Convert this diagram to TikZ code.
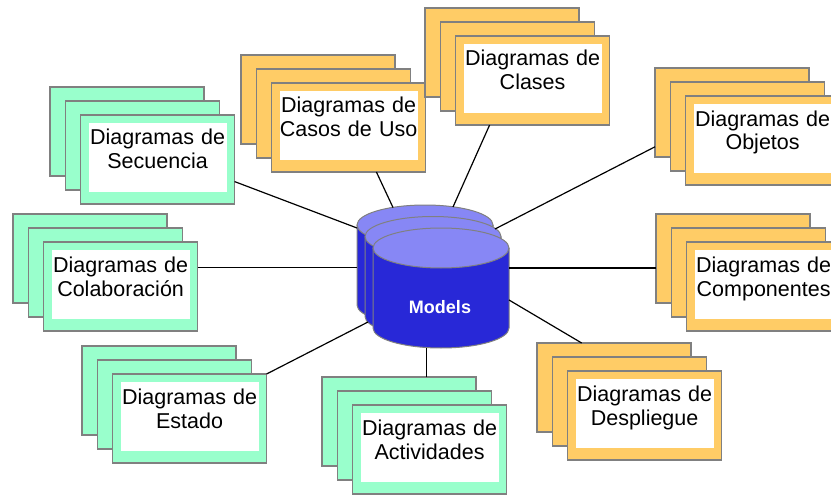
\documentclass[tikz,border=0pt]{standalone}
\usepackage{fontspec}
\setsansfont{Liberation Sans}
\usepackage{tikz}
\usetikzlibrary{positioning}
\definecolor{cardgreen}{RGB}{153,255,204}
\definecolor{cardorange}{RGB}{255,204,102}
\definecolor{cardline}{RGB}{128,128,128}
\definecolor{dbblue}{RGB}{40,40,215}
\definecolor{dbtop}{RGB}{135,135,245}

\begin{document}
\begin{tikzpicture}[x=1pt,y=-1pt,node distance=0pt,outer sep=0pt,inner sep=0pt]
      \tikzset{card/.style={shape=rectangle,draw=cardline,line width=1.4pt,fill=#1,minimum width=154pt,minimum height=89pt}}
      \tikzset{cardfront/.style={card=#1,path picture={\fill[white] ([shift={(8pt,-8pt)}]path picture bounding box.north west) rectangle ([shift={(-8pt,12pt)}]path picture bounding box.south east);},
          text width=138pt,align=center,font=\sffamily\fontsize{21.5pt}{24pt}\selectfont,text height=16pt,text depth=45pt}}
      \tikzset{behind/.style={on grid,below right=14pt and 15.3pt of #1}}
      \tikzset{drum/.pic={
          \fill [dbblue] (-68,-40) -- (-68,40) arc (180:0:68 and 20) -- (68,-40) -- cycle;
          \fill [dbtop] (0,-40) ellipse (68 and 20);
          \draw [cardline,line width=1pt] (-68,-40) -- (-68,40) arc (180:0:68 and 20) -- (68,-40);
          \draw [cardline,line width=1pt] (0,-40) ellipse (68 and 20);}}
      \tikzset{dblabel/.style={text=white,font=\sffamily\bfseries\fontsize{18pt}{20pt}\selectfont}}
      \tikzset{link/.style={draw=black,line width=1.2pt}}

      \fill[white] (0,0) rectangle (831,495);
      \clip (0,0) rectangle (831,495);

      % green stacks
      \node [card=cardgreen] (secB) at (127,131.5) {};
      \node [card=cardgreen,behind=secB] (secM) {};
      \node [cardfront=cardgreen,behind=secM] (secF) {Diagramas de\\Secuencia};

      \node [card=cardgreen] (colB) at (90,258.5) {};
      \node [card=cardgreen,behind=colB] (colM) {};
      \node [cardfront=cardgreen,behind=colM] (colF) {Diagramas de\\Colaboración};

      \node [card=cardgreen] (estB) at (159,390.5) {};
      \node [card=cardgreen,behind=estB] (estM) {};
      \node [cardfront=cardgreen,behind=estM] (estF) {Diagramas de\\Estado};

      \node [card=cardgreen] (actB) at (399,421.5) {};
      \node [card=cardgreen,behind=actB] (actM) {};
      \node [cardfront=cardgreen,behind=actM] (actF) {Diagramas de\\Actividades};

      % orange stacks
      \node [card=cardorange] (casB) at (318,99.5) {};
      \node [card=cardorange,behind=casB] (casM) {};
      \node [cardfront=cardorange,behind=casM] (casF) {Diagramas de\\Casos de Uso};

      \node [card=cardorange] (claB) at (502,52.5) {};
      \node [card=cardorange,behind=claB] (claM) {};
      \node [cardfront=cardorange,behind=claM] (claF) {Diagramas de\\Clases};

      \node [card=cardorange] (objB) at (732,112.5) {};
      \node [card=cardorange,behind=objB] (objM) {};
      \node [cardfront=cardorange,behind=objM] (objF) {Diagramas de\\Objetos};

      \node [card=cardorange] (comB) at (733,258.5) {};
      \node [card=cardorange,behind=comB] (comM) {};
      \node [cardfront=cardorange,behind=comM] (comF) {Diagramas de\\Componentes};

      \node [card=cardorange] (desB) at (614,387.5) {};
      \node [card=cardorange,behind=desB] (desM) {};
      \node [cardfront=cardorange,behind=desM] (desF) {Diagramas de\\Despliegue};

      % the model store
      \pic at (425,265) {drum};
      \pic at (433,276.5) {drum};
      \pic at (441,288) {drum};
      \node [dblabel] (models) at (440,307) {Models};

      % where the links meet the store
      \coordinate (dbSec) at (357,228);
      \coordinate (dbCas) at (393,207.5);
      \coordinate (dbCla) at (453,207);
      \coordinate (dbObj) at (495,229);
      \coordinate (dbCol) at (357,268);
      \coordinate (dbCom) at (509,268);
      \coordinate (dbEst) at (368,322);
      \coordinate (dbAct) at (427,347.5);
      \coordinate (dbDes) at (509,300);

      % links
      \draw [link] (secF.-16) -- (dbSec);
      \draw [link] (casF.-58) -- (dbCas);
      \draw [link] (claF.-134) -- (dbCla);
      \draw [link] (objB.-156.5) -- (dbObj);
      \draw [link] (colF.14) -- (colF.14 -| dbCol);
      \draw [link] (comB.-173) -- (comB.-173 -| dbCom);
      \draw [link] (estF.north east) -- (dbEst);
      \draw [link] (actB.58) -- (actB.58 |- dbAct);
      \draw [link] (desB.126) -- (dbDes);
    \end{tikzpicture}
\end{document}
